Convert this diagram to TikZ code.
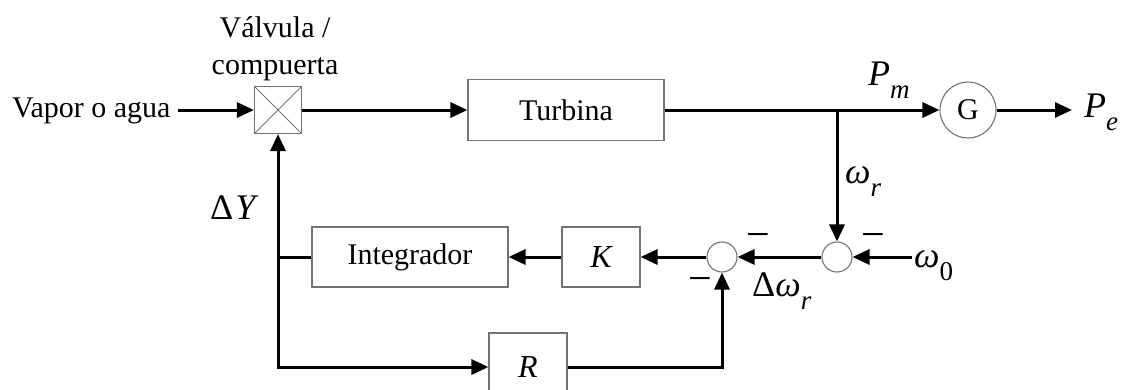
\documentclass[tikz,border=0pt]{standalone}
\usepackage{fontspec}
\setmainfont{Liberation Serif}
\usetikzlibrary{arrows.meta}

\newcommand{\mainsz}{\fontsize{30}{36}\selectfont}
\newcommand{\blksz}{\fontsize{32}{36}\selectfont}
\newcommand{\symsz}{\fontsize{36}{40}\selectfont}
\newcommand{\subsz}{\fontsize{27}{30}\selectfont}
\newcommand{\withsub}[2]{{\symsz #1}\raisebox{-13pt}{\subsz #2}}

\begin{document}
\begin{tikzpicture}[x=1pt,y=-1pt,
  >={Triangle[length=17pt,width=15pt]},
  blk/.style={draw=black!55, line width=1.1pt, minimum height=61pt, inner sep=0pt, font=\mainsz},
  sumnode/.style={circle, draw=black!55, line width=1.1pt, minimum size=30pt, inner sep=0pt},
  flow/.style={line width=3pt, ->},
  plain/.style={line width=3pt},
  lbl/.style={inner sep=0pt, anchor=base west},
  txt/.style={inner sep=0pt, anchor=base, font=\mainsz},
  minus/.style={inner sep=0pt, font=\fontsize{42}{42}\selectfont}]

\useasboundingbox (0,0) rectangle (1123,389);
\clip (0,0) rectangle (1123,389);

% blocks
\node[blk, minimum width=47pt, minimum height=47pt,
  path picture={\draw[line width=0.9pt]
    (path picture bounding box.south west) -- (path picture bounding box.north east)
    (path picture bounding box.north west) -- (path picture bounding box.south east);}]
  (valve) at (278,110) {};
\node[txt] (vtop) at (275,37) {Válvula /};
\node[txt] (vbot) at (275,74) {compuerta};
\node[lbl, font=\mainsz] (vapor) at (12,117) {Vapor o agua};

\node[blk, minimum width=196pt] (turb) at (566,110) {Turbina};
\node[circle, draw=black!55, line width=1.1pt, minimum size=56pt, inner sep=0pt, font=\mainsz] (gen) at (968,110) {G};

\node[sumnode] (s2) at (837,257) {};
\node[sumnode] (s1) at (722,257) {};
\node[blk, minimum width=78pt, minimum height=60pt, font=\blksz\itshape] (gain) at (601,257) {K};
\node[blk, minimum width=196pt, minimum height=60pt] (integ) at (410,257) {Integrador};
\node[blk, minimum width=78pt, minimum height=68pt, font=\blksz\itshape] (droop) at (528,367) {R};

\coordinate (tap) at (837,110);
\coordinate (bus) at (278,257);
\coordinate (pe) at (1072,110);
\coordinate (w0in) at (912,257);
\coordinate (vin) at (178,110);

% signal paths
\draw[flow] (vin) -- (valve.west);
\draw[flow] (valve.east) -- (turb.west);
\draw[flow] (turb.east) -- (gen.west);
\draw[flow] (tap) -- (s2.north);
\draw[flow] (gen.east) -- (pe);
\draw[flow] (w0in) -- (s2.east);
\draw[flow] (s2.west) -- (s1.east);
\draw[flow] (s1.west) -- (gain.east);
\draw[flow] (gain.west) -- (integ.east);
\draw[plain] (integ.west) -- (bus);
\draw[plain, <->] (valve.south) |- (droop.west);
\draw[flow] (droop.east) -| (s1.south);

% signal labels
\node[lbl] (pm) at (868,85) {\withsub{\textit{P}}{\textit{m}}};
\node[lbl] (pelbl) at (1084,117) {\withsub{\textit{P}}{\textit{e}}};
\node[lbl] (wr) at (845,183) {\withsub{\textit{ω}}{\textit{r}}};
\node[lbl] (w0) at (914,267) {\withsub{\textit{ω}}{0}};
\node[lbl] (dwr) at (752,296) {\withsub{Δ\textit{ω}}{\textit{r}}};
\node[lbl] (dy) at (210,219) {{\symsz Δ\kern2pt\textit{Y}}};

% summing-point signs
\node[minus] (m1) at (758,241) {−};
\node[minus] (m2) at (873,241) {−};
\node[minus] (m3) at (700,285) {−};
\end{tikzpicture}
\end{document}
